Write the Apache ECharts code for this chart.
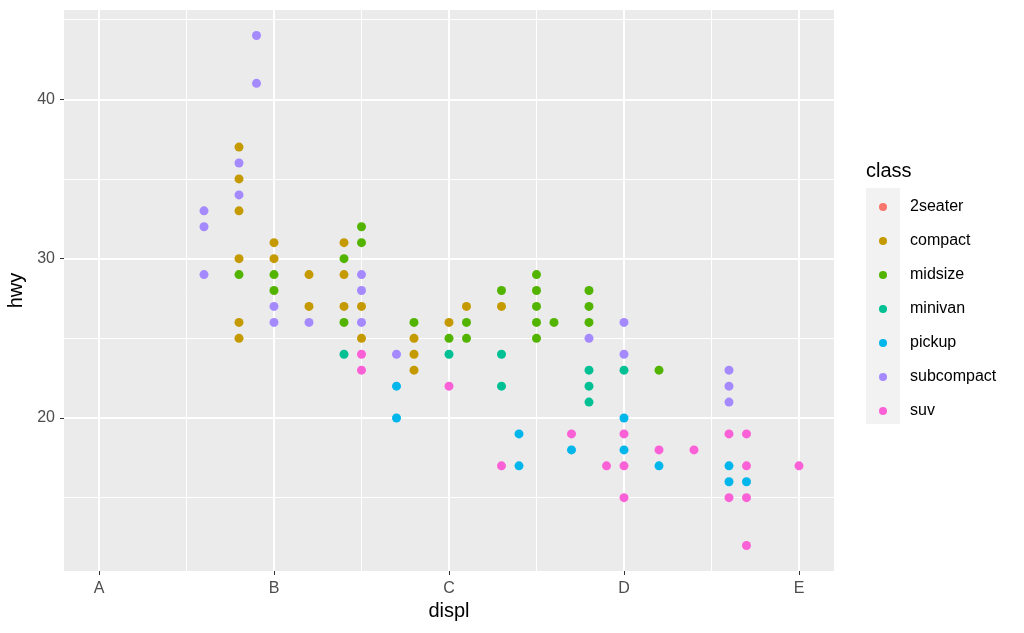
<!DOCTYPE html>
<html>
<head>
<meta charset="utf-8">
<script src="https://cdn.jsdelivr.net/npm/echarts@6/dist/echarts.min.js"></script>
<style>
html,body{margin:0;padding:0;background:#fff;}
#chart{width:1024px;height:633px;}
</style>
</head>
<body>
<div id="chart"></div>
<script>
// ---- data (displ, hwy) per class ----
var classNames = ['2seater','compact','midsize','minivan','pickup','subcompact','suv'];
var classColors = ['#F8766D','#C49A00','#53B400','#00C094','#00B6EB','#A58AFF','#FB61D7'];

var twoseater = [];
var compact = [[1.8,37],[1.8,35],[1.8,33],[1.8,30],[1.8,26],[1.8,25],[2.0,31],[2.0,30],[2.2,29],[2.2,27],
  [2.4,31],[2.4,29],[2.4,27],[2.5,27],[2.5,25],[2.8,25],[2.8,24],[2.8,23],[3.0,26],[3.1,27],[3.3,27]];
var midsize = [[1.8,29],[2.0,29],[2.0,28],[2.4,30],[2.4,26],[2.5,32],[2.5,31],[2.8,26],[3.0,25],[3.1,26],
  [3.1,25],[3.3,28],[3.5,29],[3.5,28],[3.5,27],[3.5,26],[3.5,25],[3.6,26],[3.8,28],[3.8,27],[3.8,26],[4.2,23]];
var minivan = [[2.4,24],[3.0,24],[3.3,24],[3.3,22],[3.8,23],[3.8,22],[3.8,21],[4.0,23]];
var pickup = [[2.7,22],[2.7,20],[3.4,19],[3.4,17],[3.7,18],[4.0,20],[4.0,18],[4.2,17],[4.6,17],[4.6,16],[4.7,16]];
var subcompact = [[1.6,33],[1.6,32],[1.6,29],[1.8,36],[1.8,34],[1.9,44],[1.9,41],[2.0,27],[2.0,26],[2.2,26],
  [2.5,29],[2.5,28],[2.5,26],[2.7,24],[3.8,25],[4.0,26],[4.0,24],[4.6,23],[4.6,22],[4.6,21]];
var suv = [[2.5,24],[2.5,23],[3.0,22],[3.3,17],[3.7,19],[3.9,17],[4.0,19],[4.0,17],[4.0,15],[4.2,18],[4.4,18],
  [4.6,19],[4.6,15],[4.7,19],[4.7,17],[4.7,15],[4.7,12],[5.0,17]];

// ---- axis ticks ----
var xTickValues = [1,2,3,4,5];
var xTickLabels = ['A','B','C','D','E'];
var xMinorValues = [1.5,2.5,3.5,4.5];
var yTickValues = [20,30,40];
var yMinorValues = [15,25,35,45];

var classData = [twoseater, compact, midsize, minivan, pickup, subcompact, suv];

var FONT = '"Liberation Sans", Arial, sans-serif';

var gridLines = [];
xMinorValues.forEach(function(v){ gridLines.push({xAxis:v, lineStyle:{color:'#ffffff', width:1, type:'solid'}}); });
yMinorValues.forEach(function(v){ gridLines.push({yAxis:v, lineStyle:{color:'#ffffff', width:1, type:'solid'}}); });
xTickValues.forEach(function(v){ gridLines.push({xAxis:v, lineStyle:{color:'#ffffff', width:2, type:'solid'}}); });
yTickValues.forEach(function(v){ gridLines.push({yAxis:v, lineStyle:{color:'#ffffff', width:2, type:'solid'}}); });

var series = [{
  type:'scatter', data:[], z:1, silent:true,
  markLine:{silent:true, z:1, symbol:['none','none'], label:{show:false}, animation:false, data:gridLines}
}];
classNames.forEach(function(n,i){
  series.push({
    name:n, type:'scatter', data:classData[i], symbol:'circle', symbolSize:9, z:3,
    itemStyle:{color:classColors[i], opacity:1}, emphasis:{disabled:true}
  });
});

var chart = echarts.init(document.getElementById('chart'), null, {renderer:'canvas'});
chart.setOption({
  animation:false,
  backgroundColor:'#ffffff',
  grid:{left:64, right:190, top:10, bottom:62, show:true, backgroundColor:'#EBEBEB', borderWidth:0,
        containLabel:false, outerBoundsMode:'none'},
  xAxis:{
    type:'value', min:0.8, max:5.2,
    name:'displ', nameLocation:'middle', nameGap:27,
    nameTextStyle:{color:'#000', fontSize:20, fontFamily:FONT},
    axisLine:{show:false},
    axisTick:{show:true, customValues:xTickValues, length:4, lineStyle:{color:'#333333', width:1}},
    axisLabel:{customValues:xTickValues, margin:10, color:'#4D4D4D', fontSize:16, fontFamily:FONT,
      formatter:function(v){ var i = xTickValues.indexOf(Math.round(v)); return i>=0 ? xTickLabels[i] : ''; }},
    splitLine:{show:false}
  },
  yAxis:{
    type:'value', min:10.4, max:45.6,
    name:'hwy', nameLocation:'middle', nameGap:36, nameRotate:90,
    nameTextStyle:{color:'#000', fontSize:20, fontFamily:FONT},
    axisLine:{show:false},
    axisTick:{show:true, customValues:yTickValues, length:4, lineStyle:{color:'#333333', width:1}},
    axisLabel:{customValues:yTickValues, margin:9, color:'#4D4D4D', fontSize:16, fontFamily:FONT},
    splitLine:{show:false}
  },
  legend:{
    data:classNames, orient:'vertical', left:879, top:199, padding:0,
    icon:'circle', itemWidth:44, itemHeight:8, itemGap:18,
    textStyle:{color:'#000', fontSize:16, fontFamily:FONT},
    selectedMode:false
  },
  graphic:[
    {type:'rect', left:866, top:188, z:-1, shape:{width:34, height:236}, style:{fill:'#F2F2F2'}},
    {type:'text', left:866, top:161, style:{text:'class', font:'20px ' + FONT, fill:'#000'}}
  ],
  series:series
});
</script>
</body>
</html>
